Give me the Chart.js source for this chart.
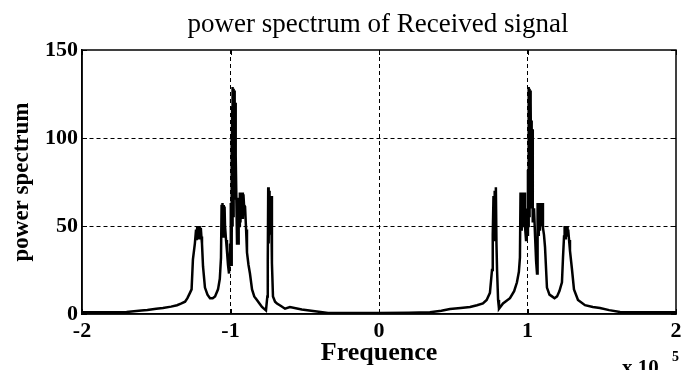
<!DOCTYPE html>
<html>
<head>
<meta charset="utf-8">
<title>power spectrum</title>
<script src="https://cdn.jsdelivr.net/npm/chart.js@4.4.1/dist/chart.umd.min.js"></script>
<style>
  html, body { margin: 0; padding: 0; background: #fff; }
  #wrap { width: 681px; height: 370px; }
</style>
</head>
<body>
<div id="wrap"><canvas id="spectrumChart" width="681" height="370"></canvas></div>
<script>
// frequency axis in units of 1e5 Hz
var freq = [
  -2.0, -1.8, -1.7, -1.6, -1.56, -1.5, -1.455, -1.4, -1.36, -1.33, -1.306, -1.29, -1.273, -1.262,
  -1.253, -1.24, -1.232, -1.228, -1.224, -1.22, -1.216, -1.212, -1.208, -1.204, -1.2, -1.196,
  -1.192, -1.185, -1.172, -1.155, -1.138, -1.12, -1.104, -1.084, -1.072, -1.064, -1.06, -1.057,
  -1.054, -1.05, -1.047, -1.044, -1.04, -1.037, -1.03, -1.024, -1.017, -1.01, -1.003, -0.999,
  -0.997, -0.995, -0.993, -0.991, -0.989, -0.987, -0.985, -0.983, -0.981, -0.979, -0.977, -0.975,
  -0.973, -0.971, -0.969, -0.967, -0.965, -0.963, -0.96, -0.956, -0.949, -0.945, -0.941, -0.937,
  -0.933, -0.929, -0.925, -0.921, -0.917, -0.913, -0.909, -0.902, -0.895, -0.889, -0.879, -0.869,
  -0.855, -0.84, -0.822, -0.805, -0.788, -0.761, -0.752, -0.749, -0.746, -0.743, -0.74, -0.737,
  -0.734, -0.731, -0.727, -0.721, -0.714, -0.7, -0.687, -0.66, -0.633, -0.6, -0.52, -0.444, -0.343,
  -0.2, 0.0, 0.2, 0.343, 0.42, 0.478, 0.55, 0.613, 0.66, 0.7, 0.725, 0.747, 0.761, 0.766, 0.771,
  0.775, 0.779, 0.783, 0.787, 0.791, 0.795, 0.802, 0.808, 0.835, 0.882, 0.91, 0.929, 0.942, 0.949,
  0.953, 0.957, 0.961, 0.965, 0.969, 0.973, 0.977, 0.983, 0.99, 0.995, 0.999, 1.003, 1.005, 1.007,
  1.009, 1.011, 1.013, 1.015, 1.017, 1.019, 1.021, 1.023, 1.025, 1.027, 1.029, 1.031, 1.034,
  1.037, 1.044, 1.051, 1.058, 1.064, 1.068, 1.072, 1.076, 1.08, 1.084, 1.088, 1.092, 1.096, 1.1,
  1.104, 1.111, 1.118, 1.131, 1.148, 1.165, 1.182, 1.199, 1.215, 1.232, 1.239, 1.246, 1.25, 1.254,
  1.258, 1.262, 1.266, 1.27, 1.274, 1.28, 1.286, 1.3, 1.313, 1.34, 1.387, 1.44, 1.488, 1.55, 1.623,
  1.7, 1.8, 1.9, 2.0
];
var power = [
  1.0, 1.0, 1.2, 2.0, 2.3, 3.0, 3.4, 4.2, 5.0, 6.0, 7.0, 9.0, 12.0, 14.0,
  31.0, 40.0, 48.0, 42.0, 50.0, 44.0, 49.0, 43.0, 50.0, 45.0, 49.0, 44.0,
  40.0, 27.0, 15.0, 11.0, 9.0, 9.0, 10.0, 14.0, 20.0, 32.0, 62.0, 45.0,
  63.0, 44.0, 62.0, 47.0, 61.0, 50.0, 42.0, 36.0, 28.0, 23.0, 40.0, 30.0,
  63.0, 28.0, 100.0, 40.0, 118.0, 50.0, 129.0, 60.0, 128.0, 55.0, 126.0, 70.0,
  127.0, 65.0, 120.0, 80.0, 110.0, 90.0, 63.0, 40.0, 40.0, 66.0, 50.0, 69.0,
  52.0, 68.0, 55.0, 69.0, 54.0, 68.0, 62.0, 61.0, 48.0, 35.0, 28.0, 23.0,
  14.0, 10.0, 8.0, 6.0, 4.0, 2.0, 10.0, 30.0, 72.0, 40.0, 70.0, 45.0,
  67.0, 45.0, 67.0, 29.0, 10.0, 7.0, 6.0, 4.5, 3.0, 4.0, 2.6, 1.7, 0.6,
  0.6, 0.6, 0.7, 1.0, 1.8, 2.8, 3.4, 4.0, 5.0, 6.0, 8.0, 12.0, 25.0, 45.0, 67.0,
  42.0, 70.0, 45.0, 72.0, 40.0, 25.0, 8.0, 3.0, 6.0, 9.0, 13.0, 18.0, 24.0, 32.0,
  69.0, 48.0, 69.0, 50.0, 68.0, 52.0, 69.0, 50.0, 42.0, 60.0, 45.0, 82.0, 50.0, 129.0,
  60.0, 128.0, 55.0, 126.0, 70.0, 127.0, 60.0, 120.0, 75.0, 110.0, 80.0, 105.0, 60.0,
  52.0, 60.0, 44.0, 30.0, 23.0, 63.0, 45.0, 62.0, 48.0, 63.0, 50.0, 62.0, 52.0, 63.0,
  49.0, 45.0, 38.0, 15.0, 11.0, 10.0, 9.0, 10.0, 13.0, 18.0, 32.0, 44.0, 50.0, 43.0,
  50.0, 44.0, 50.0, 45.0, 48.0, 42.0, 36.0, 25.0, 14.0, 8.0, 5.0, 4.0, 3.4, 2.2, 1.2,
  1.0, 1.0, 1.0, 1.0
];
var xTicks = [-2, -1, 0, 1, 2];
var yTicks = [0, 50, 100, 150];

var serif = "'Liberation Serif', 'Times New Roman', serif";

var points = freq.map(function (f, i) {
  return { x: f, y: power[i] };
});

// frame, inward tick marks, title and the x 10^5 exponent
var framePlugin = {
  id: "frame",
  afterDraw: function (chart) {
    var ctx = chart.ctx;
    var a = chart.chartArea;
    var xs = chart.scales.x;
    var ys = chart.scales.y;
    ctx.save();
    ctx.strokeStyle = "#000";
    ctx.lineWidth = 1.5;
    ctx.strokeRect(a.left, a.top, a.right - a.left, a.bottom - a.top);
    ctx.lineWidth = 1;
    ctx.beginPath();
    xTicks.forEach(function (v) {
      var px = Math.round(xs.getPixelForValue(v)) + 0.5;
      ctx.moveTo(px, a.bottom);
      ctx.lineTo(px, a.bottom - 5);
      ctx.moveTo(px, a.top);
      ctx.lineTo(px, a.top + 5);
    });
    yTicks.forEach(function (v) {
      var py = Math.round(ys.getPixelForValue(v)) + 0.5;
      ctx.moveTo(a.left, py);
      ctx.lineTo(a.left + 5, py);
      ctx.moveTo(a.right, py);
      ctx.lineTo(a.right - 5, py);
    });
    ctx.stroke();

    ctx.fillStyle = "#000";
    ctx.textAlign = "center";
    ctx.textBaseline = "alphabetic";
    ctx.font = "27px " + serif;
    ctx.fillText("power spectrum of Received signal", 378, 32);

    ctx.textAlign = "left";
    ctx.font = "bold 21px " + serif;
    ctx.fillText("x 10", 622, 374);
    ctx.font = "bold 14px " + serif;
    ctx.fillText("5", 672, 361);
    ctx.restore();
  }
};

var gridColor = function (c) {
  var v = c.tick ? c.tick.value : null;
  var s = c.scale;
  return v === s.min || v === s.max ? "rgba(0,0,0,0)" : "#000";
};

new Chart(document.getElementById("spectrumChart").getContext("2d"), {
  type: "line",
  data: {
    datasets: [
      {
        data: points,
        borderColor: "#000",
        borderWidth: 2.5,
        pointRadius: 0,
        tension: 0,
        fill: false
      }
    ]
  },
  options: {
    responsive: false,
    animation: false,
    devicePixelRatio: 1,
    layout: { padding: { top: 50, right: 5, left: 0, bottom: 0 } },
    plugins: {
      legend: { display: false },
      tooltip: { enabled: false },
      title: { display: false }
    },
    scales: {
      x: {
        type: "linear",
        min: -2,
        max: 2,
        afterFit: function (scale) {
          scale.height = 56;
          scale.paddingLeft = 0;
          scale.paddingRight = 0;
        },
        afterBuildTicks: function (scale) {
          scale.ticks = xTicks.map(function (v) { return { value: v }; });
        },
        ticks: {
          color: "#000",
          padding: 4,
          font: { family: serif, size: 22, weight: "bold" },
          callback: function (v) { return String(v); }
        },
        grid: {
          drawTicks: false,
          color: gridColor,
          lineWidth: 1
        },
        border: { display: true, color: "#000", width: 1.5, dash: [4, 3] },
        title: {
          display: true,
          text: "Frequence",
          color: "#000",
          font: { family: serif, size: 26, weight: "bold" },
          padding: { top: 0, bottom: 1 }
        }
      },
      y: {
        min: 0,
        max: 150,
        afterFit: function (scale) {
          scale.width = 82;
          scale.paddingTop = 0;
          scale.paddingBottom = 0;
        },
        afterBuildTicks: function (scale) {
          scale.ticks = yTicks.map(function (v) { return { value: v }; });
        },
        ticks: {
          color: "#000",
          padding: 4,
          font: { family: serif, size: 22, weight: "bold" },
          callback: function (v) { return String(v); }
        },
        grid: {
          drawTicks: false,
          color: gridColor,
          lineWidth: 1
        },
        border: { display: true, color: "#000", width: 1.5, dash: [4, 3] },
        title: {
          display: true,
          text: "power spectrum",
          color: "#000",
          font: { family: serif, size: 23, weight: "bold" },
          padding: { top: 8, bottom: 0 }
        }
      }
    }
  },
  plugins: [framePlugin]
});
</script>
</body>
</html>
